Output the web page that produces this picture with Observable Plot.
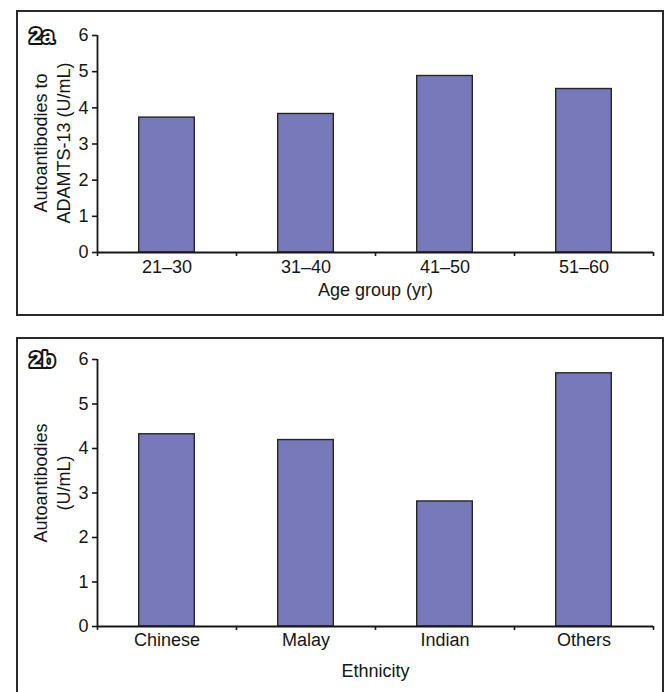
<!DOCTYPE html>
<html>
<head>
<meta charset="utf-8">
<script src="https://cdn.jsdelivr.net/npm/d3@7"></script>
<script src="https://cdn.jsdelivr.net/npm/@observablehq/plot@0.6"></script>
<style>
  html, body { margin: 0; padding: 0; background: #fff; overflow: hidden; width: 664px; height: 692px; }
  .panel { position: absolute; left: 16px; border: 2px solid #2a2a2a; background: #fff; line-height: 0; }
  #pa { top: 10px; }
  #pb { top: 337px; }
</style>
</head>
<body>
<div class="panel" id="pa"></div>
<div class="panel" id="pb"></div>
<script>
// ---- data ----
const ageGroups = ["21–30", "31–40", "41–50", "51–60"];
const ageValues = [3.73, 3.83, 4.88, 4.52];
const ethnicities = ["Chinese", "Malay", "Indian", "Others"];
const ethnicityValues = [4.32, 4.19, 2.81, 5.69];
const yTicks = [0, 1, 2, 3, 4, 5, 6];
const panelA = { tag: "2a", xLabel: "Age group (yr)", yLabel: "Autoantibodies to\nADAMTS-13 (U/mL)" };
const panelB = { tag: "2b", xLabel: "Ethnicity", yLabel: "Autoantibodies\n(U/mL)" };

const FONT = "'Liberation Sans', Arial, Helvetica, sans-serif";
const INK = "#161616";
const FS = 18;

function panel(cats, vals, meta, o) {
  const data = cats.map((c, i) => ({ cat: c, value: vals[i], i }));
  const bounds = d3.range(cats.length + 1);
  return Plot.plot({
    width: 644,
    height: o.height,
    marginLeft: 79,
    marginRight: 9,
    marginTop: o.marginTop,
    marginBottom: o.marginBottom,
    style: { fontFamily: FONT, fontSize: FS + "px", color: INK, background: "white", overflow: "visible" },
    x: { type: "linear", domain: [0, cats.length], axis: null },
    y: { type: "linear", domain: [0, 6], axis: null },
    marks: [
      Plot.rectY(data, {
        x1: d => d.i + 0.3, x2: d => d.i + 0.7, y1: 0, y2: "value",
        fill: "#7879bb", stroke: "#262626", strokeWidth: 1.4
      }),
      Plot.ruleX([0], { stroke: INK, strokeWidth: 1.8 }),
      Plot.ruleY([0], { stroke: INK, strokeWidth: 1.8 }),
      Plot.axisY({ ticks: yTicks, tickSize: 5, tickPadding: 4, tickFormat: d3.format("d"),
        stroke: INK, strokeWidth: 1.6, fontSize: FS, fill: INK, label: null }),
      Plot.axisX({ ticks: bounds, tickSize: 4, tickFormat: () => "", stroke: INK, strokeWidth: 1.6, label: null }),
      Plot.text(data, { x: d => d.i + 0.5, y: 0, dy: o.catDy, text: "cat", fontSize: FS, fill: INK }),
      Plot.text([meta.xLabel], { frameAnchor: "bottom", dy: o.xLabelDy, text: d => d, fontSize: FS, fill: INK }),
      Plot.text([meta.yLabel], { frameAnchor: "left", dx: -46.5, dy: o.yLabelDy, rotate: -90,
        text: d => d, fontSize: FS, lineHeight: 1.3, fill: INK, lineAnchor: "middle", textAnchor: "middle" }),
      Plot.text([meta.tag], { frameAnchor: "top-left", dx: -68, dy: 0, text: d => d,
        textAnchor: "start", lineAnchor: "middle", fontSize: 22, fontWeight: "bold",
        fill: "white", stroke: "#111", strokeWidth: 4, paintOrder: "stroke" })
    ]
  });
}

document.getElementById("pa").append(panel(ageGroups, ageValues, panelA,
  { height: 302, marginTop: 23, marginBottom: 62, catDy: 15, xLabelDy: 43, yLabelDy: -1 }));
document.getElementById("pb").append(panel(ethnicities, ethnicityValues, panelB,
  { height: 360, marginTop: 20, marginBottom: 73, catDy: 14, xLabelDy: 50, yLabelDy: -10 }));
</script>
</body>
</html>
